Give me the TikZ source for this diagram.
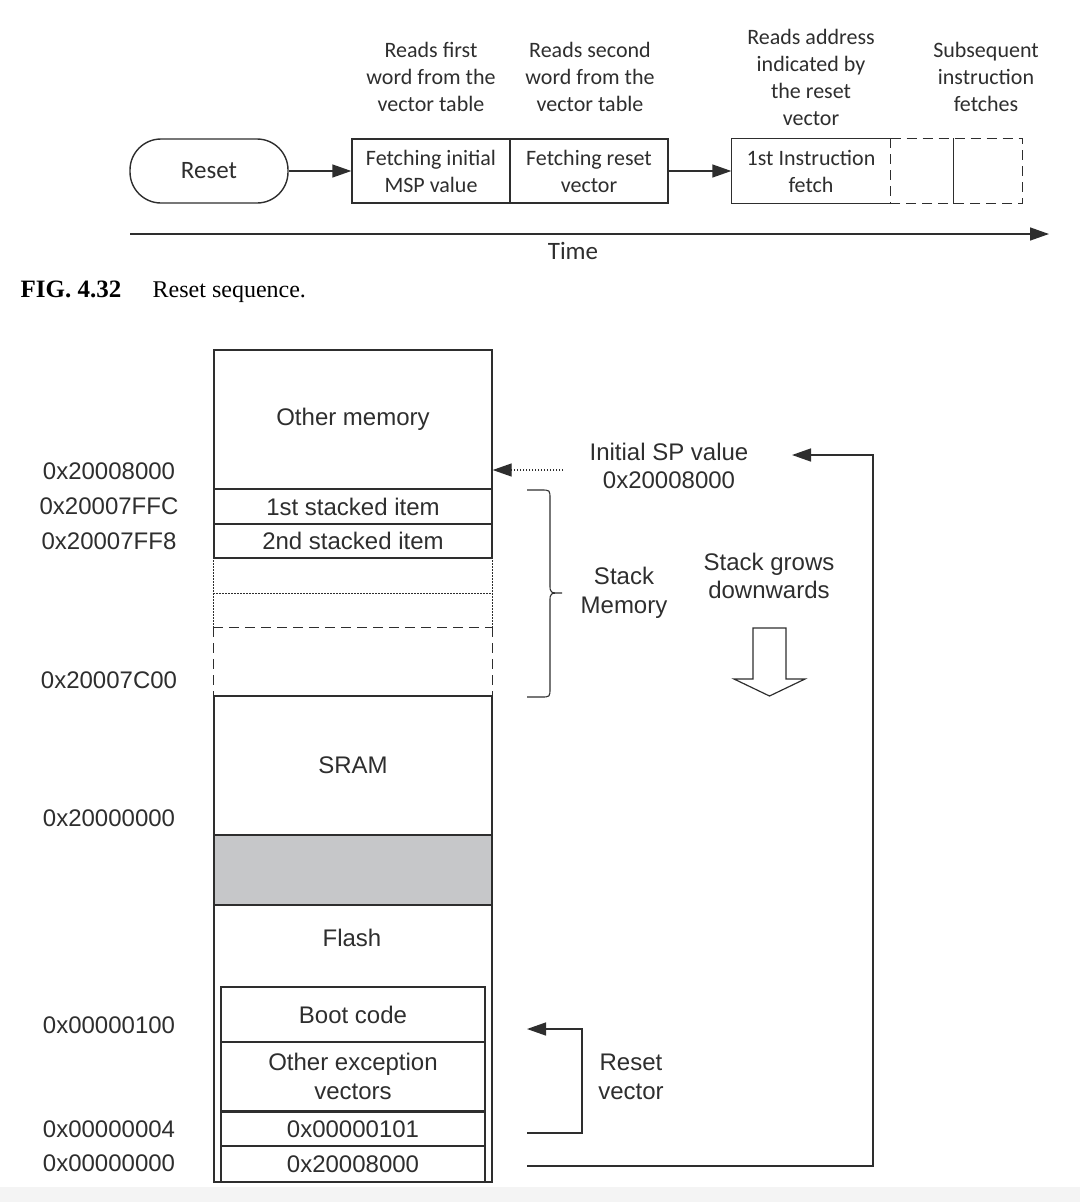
\documentclass[tikz,border=0pt]{standalone}
\usepackage{fontspec}
\setmainfont{Liberation Sans}
\newfontfamily\calfont{Carlito}
\newfontfamily\serfont{Liberation Serif}
\usetikzlibrary{arrows.meta}
\definecolor{ink}{HTML}{2E2E2E}
\definecolor{shade}{HTML}{C6C7C9}
\begin{document}
\begin{tikzpicture}[x=1pt,y=-1pt, line width=1.4pt, draw=ink,
 topf/.style={font=\calfont\fontsize{22}{27}\selectfont, align=center, text=ink},
 tbox/.style={topf, draw=ink, minimum width=158pt, minimum height=64pt, inner sep=0pt},
 memf/.style={font=\fontsize{24}{28.5}\selectfont, align=center, text=ink},
 mem/.style={memf, draw=ink, minimum width=278pt, inner sep=0pt, minimum height=#1},
 inmem/.style={memf, draw=ink, minimum width=264pt, inner sep=0pt, minimum height=#1},
 tip/.style={-{Triangle[length=19pt,width=13pt]}},
 dsh/.style={dash pattern=on 10pt off 6pt},
 dtt/.style={dash pattern=on 1.4pt off 1.6pt}
]
\useasboundingbox (0,0) rectangle (1080,1202);
\fill[gray!9] (0,1187) rectangle (1080,1202);

% ---------- top: reset sequence ----------
\node[draw=ink, rounded corners=31pt, minimum width=158pt, minimum height=64pt, inner sep=0pt,
      font=\calfont\fontsize{25}{30}\selectfont, text=ink] (reset) at (209,171) {Reset};
\node[tbox] (b1) at (431,171) {Fetching initial\\MSP value};
\node[tbox] (b2) at (589,171) {Fetching reset\\vector};
\node[tbox, draw=none] (b3) at (811,171) {1st Instruction\\fetch};
\node[tbox, draw=none, minimum width=64pt] (b4) at (922,171) {};
\node[tbox, draw=none, minimum width=68pt] (b5) at (988,171) {};
\draw (b3.north east) -- (b3.north west) -- (b3.south west) -- (b3.south east);
\draw[dsh] (b3.north east) -- (b5.north east) -- (b5.south east) -- (b3.south east);
\draw[dsh] (b3.north east) -- (b3.south east);
\draw (b5.north west) -- (b5.south west);
\draw[tip] (reset) -- (b1);
\draw[tip] (b2) -- (b3);

\node[topf] (l1) at (431,77) {Reads first\\word from the\\vector table};
\node[topf] (l2) at (590,77) {Reads second\\word from the\\vector table};
\node[topf] (l3) at (811,77) {Reads address\\indicated by\\the reset\\vector};
\node[topf] (l4) at (986,77) {Subsequent\\instruction\\fetches};

\coordinate (t0) at (130,234);
\coordinate (t1) at (1049,234);
\draw[tip] (t0) -- (t1);
\node[font=\calfont\fontsize{25}{30}\selectfont, text=ink] (time) at (573,251) {Time};

\node[anchor=base west, font=\serfont\bfseries\fontsize{25}{28}\selectfont, text=black, inner sep=0pt] (fig) at (20,297) {FIG. 4.32};
\node[anchor=base west, font=\serfont\fontsize{24}{28}\selectfont, text=black, inner sep=0pt] (cap) at (152,297) {Reset sequence.};

% ---------- memory map ----------
\node[mem=139pt] (om) at (353,419.5) {Other memory};
\node[mem=35pt] (s1) at (353,506.5) {1st stacked item};
\node[mem=34pt] (s2) at (353,541) {2nd stacked item};
\node[mem=35pt, draw=none] (d1) at (353,575.5) {};
\node[mem=35pt, draw=none] (d2) at (353,610.5) {};
\node[mem=68pt, draw=none] (d3) at (353,662) {};
\draw[dtt] (d1.north west) -- (d2.south west);
\draw[dtt] (d1.north east) -- (d2.south east);
\draw[dtt] (d1.south west) -- (d1.south east);
\draw[dsh] (d3.north west) -- (d3.north east);
\draw[dsh] (d3.north west) -- (d3.south west);
\draw[dsh] (d3.north east) -- (d3.south east);
\node[mem=139pt] (sram) at (353,765.5) {SRAM};
\node[mem=70pt, fill=shade] (gap) at (353,870) {};
\node[mem=277pt] (flash) at (353,1043.5) {};
\node[memf] (flt) at (352,938) {Flash};
\node[inmem=55pt] (boot) at (353,1014.5) {Boot code};
\node[inmem=69pt] (oev) at (353,1076.5) {Other exception\\vectors};
\node[inmem=34pt] (v1) at (353,1129) {0x00000101};
\node[inmem=36pt] (v0) at (353,1164) {0x20008000};

\node[memf] (a1) at (109,471) {0x20008000};
\node[memf] (a2) at (109,506) {0x20007FFC};
\node[memf] (a3) at (109,541) {0x20007FF8};
\node[memf] (a4) at (109,680) {0x20007C00};
\node[memf] (a5) at (109,818) {0x20000000};
\node[memf] (a6) at (109,1025) {0x00000100};
\node[memf] (a7) at (109,1129) {0x00000004};
\node[memf] (a8) at (109,1163) {0x00000000};

% initial SP
\node[memf] (sp) at (669,466) {Initial SP value\\0x20008000};
\coordinate (spfrom) at (563,470);
\draw[dtt, tip] (spfrom) -- (spfrom -| om.east);

% return line
\coordinate (r0) at (527,1166);
\coordinate (r1) at (873,1166);
\coordinate (r2) at (873,455);
\coordinate (r3) at (792,455);
\draw[tip] (r0) -- (r1) -- (r2) -- (r3);

% brace
\coordinate (bt) at (527,490);
\coordinate (bb) at (527,697);
\draw[line width=1.1pt] (bt) -- (541,490) .. controls (550,490) .. (550,499) -- (550,584)
  .. controls (550,593) .. (562,593) .. controls (550,593) .. (550,602) -- (550,688)
  .. controls (550,697) .. (541,697) -- (bb);
\node[memf] (sm) at (624,593) {Stack\\Memory};

% stack grows
\node[memf] (sg) at (769,576) {Stack grows\\downwards};
\draw[line width=1.2pt] (753,628) -- (786,628) -- (786,679) -- (805,679) -- (769.5,696)
   -- (734,679) -- (753,679) -- cycle;

% reset vector
\coordinate (rv0) at (527,1133);
\coordinate (rv1) at (582,1133);
\coordinate (rv2) at (582,1029);
\coordinate (rv3) at (527,1029);
\draw[tip] (rv0) -- (rv1) -- (rv2) -- (rv3);
\node[memf] (rvt) at (631,1077) {Reset\\vector};
\end{tikzpicture}
\end{document}
